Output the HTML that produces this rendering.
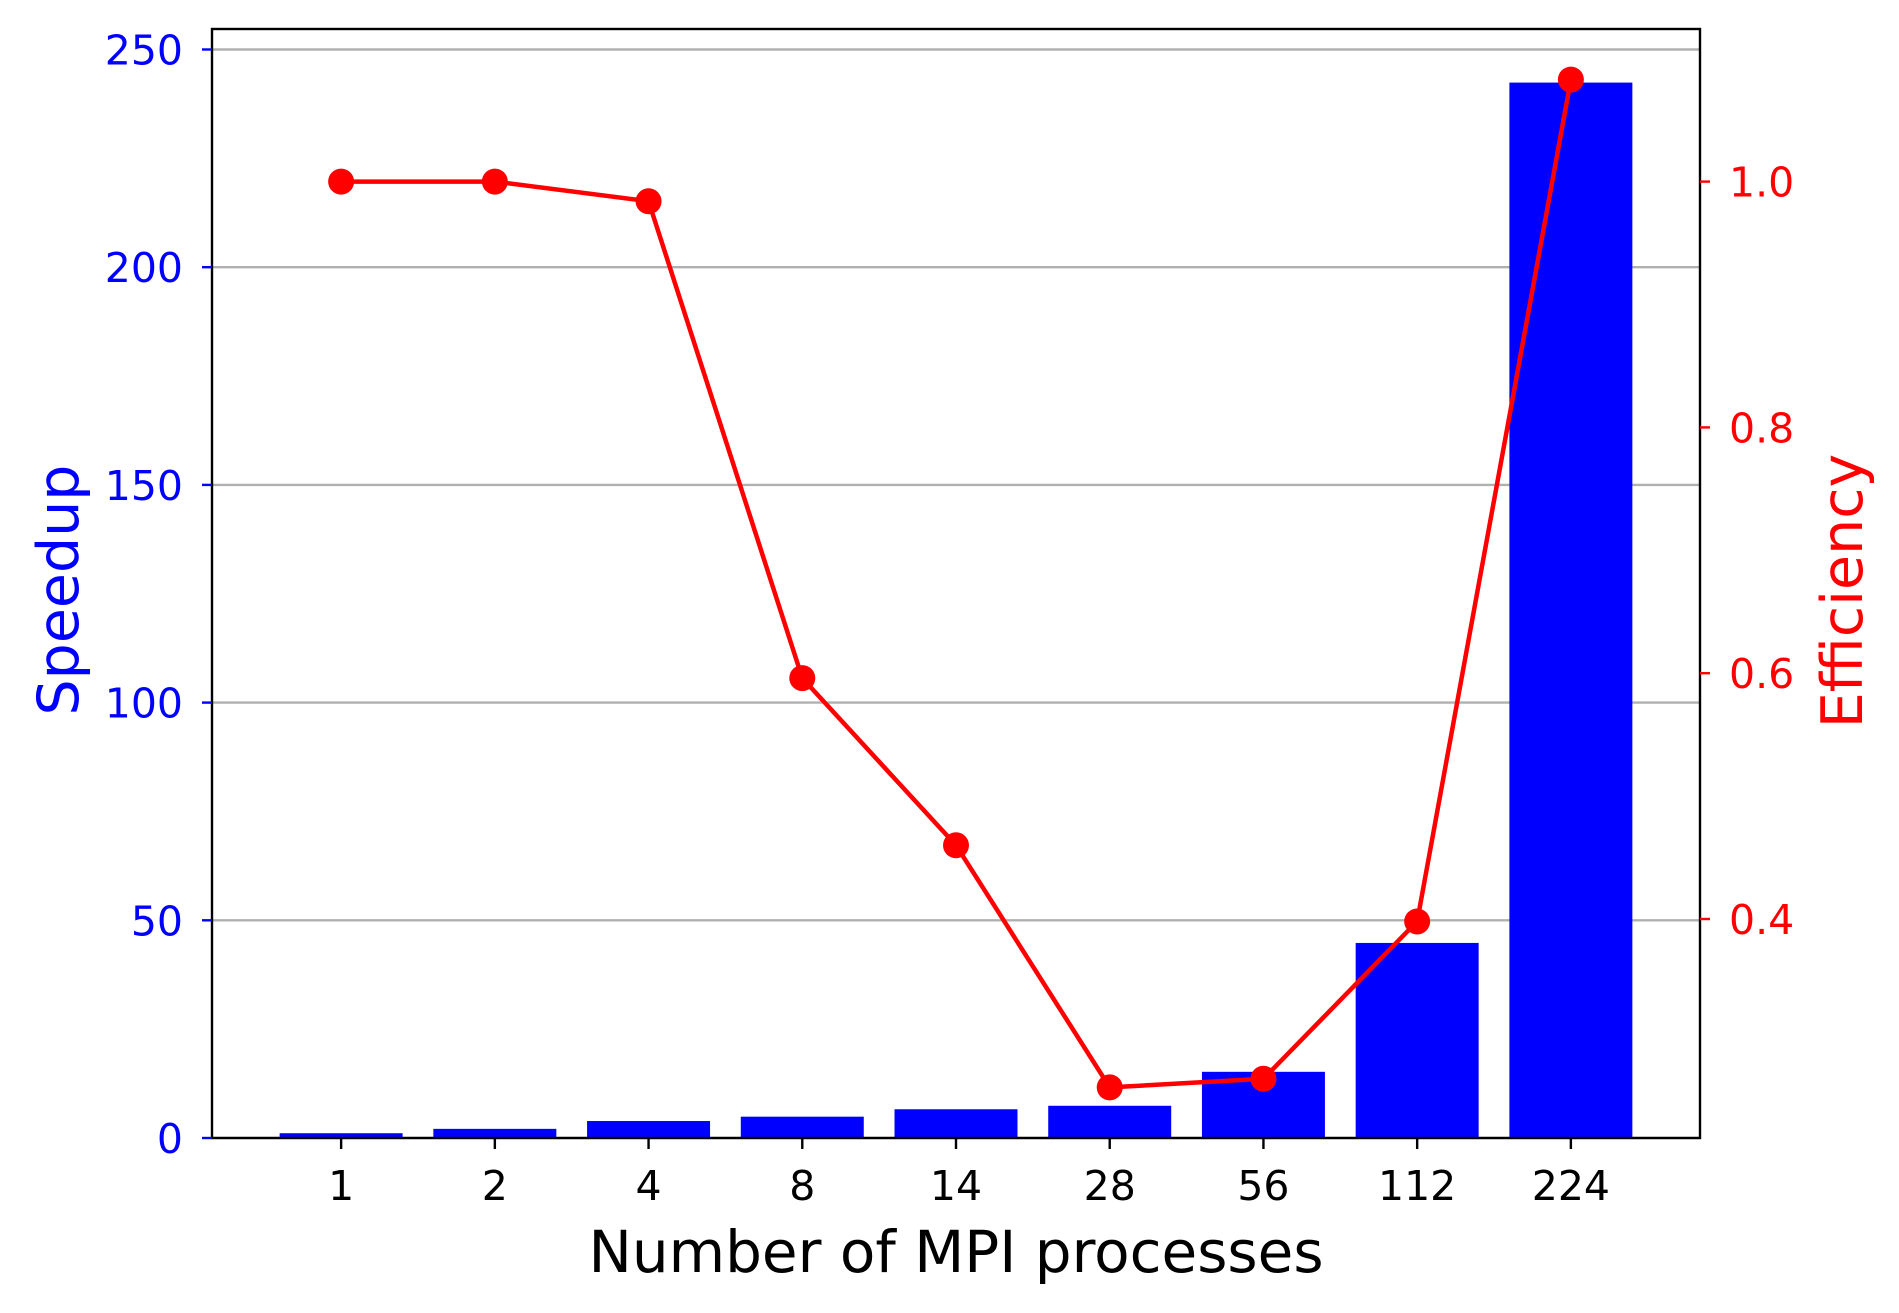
<!DOCTYPE html>
<html><head><meta charset="utf-8"><style>
html,body{margin:0;padding:0;background:#fff;}
svg{display:block;font-family:"DejaVu Sans","Liberation Sans",sans-serif;}
</style></head><body>
<svg id="chart" width="1899" height="1313" viewBox="0 0 1899 1313"></svg>
<script>
const categories = ["1","2","4","8","14","28","56","112","224"];
const speedup = [1.1, 2.1, 3.9, 4.9, 6.6, 7.4, 15.2, 44.8, 242.4];
const efficiency = [1.0, 1.0, 0.984, 0.596, 0.46, 0.263, 0.27, 0.398, 1.083];
const leftTicks = [0, 50, 100, 150, 200, 250];
const rightTicks = [0.4, 0.6, 0.8, 1.0];
const rightTickLabels = ["0.4", "0.6", "0.8", "1.0"];

const NS = "http://www.w3.org/2000/svg";
const svg = document.getElementById("chart");
const L = 212, R = 1700, T = 29, B = 1138;
const xs = i => L + (i + 0.84) / 9.68 * (R - L);
const step = (R - L) / 9.68;
const yL = v => B - v * (1088.5 / 250);
const yR = v => 919 - (v - 0.4) * 1229;

function mk(tag, attrs, parent) {
  const e = document.createElementNS(NS, tag);
  for (const k in attrs) e.setAttribute(k, attrs[k]);
  (parent || svg).appendChild(e);
  return e;
}

leftTicks.forEach(v => {
  const g = mk("line", {x1: L, x2: R, y1: yL(v), y2: yL(v), stroke: "#b0b0b0", "stroke-width": 2.4});
  
  
});

speedup.forEach((v, i) => {
  const r = mk("rect", {x: xs(i) - 0.4 * step, y: yL(v), width: 0.8 * step, height: B - yL(v), fill: "#0000ff"});
  
  
});

const pts = efficiency.map((v, i) => xs(i) + "," + yR(v)).join(" ");
const pl = mk("polyline", {points: pts, fill: "none", stroke: "#ff0000", "stroke-width": 4.5, "stroke-linejoin": "round"});


efficiency.forEach((v, i) => {
  const c = mk("circle", {cx: xs(i), cy: yR(v), r: 13, fill: "#ff0000"});
  
  
});

const fr = mk("rect", {x: L, y: T, width: R - L, height: B - T, fill: "none", stroke: "#000", "stroke-width": 2.4});



leftTicks.forEach(v => {
  mk("line", {x1: L - 10, x2: L, y1: yL(v), y2: yL(v), stroke: "#0000ff", "stroke-width": 2.4});
  const t = mk("text", {x: L - 29, y: yL(v) + 15, "text-anchor": "end", "font-size": 41, fill: "#0000ff"});
  t.textContent = v;
  
  
});
rightTicks.forEach((v, i) => {
  mk("line", {x1: R, x2: R + 10, y1: yR(v), y2: yR(v), stroke: "#ff0000", "stroke-width": 2.4});
  const t = mk("text", {x: R + 29, y: yR(v) + 15, "font-size": 41, fill: "#ff0000"});
  t.textContent = rightTickLabels[i];
  
  
});
categories.forEach((c, i) => {
  mk("line", {x1: xs(i), x2: xs(i), y1: B, y2: B + 11, stroke: "#000", "stroke-width": 2.4});
  const t = mk("text", {x: xs(i), y: B + 62, "text-anchor": "middle", "font-size": 41, fill: "#000"});
  t.textContent = c;
  
  
});

const xt = mk("text", {x: (L + R) / 2, y: 1272, "text-anchor": "middle", "font-size": 58, fill: "#000"});
xt.textContent = "Number of MPI processes";



const yt = mk("text", {x: 0, y: 0, "text-anchor": "middle", "font-size": 57, fill: "#0000ff", transform: "translate(78,590) rotate(-90)"});
yt.textContent = "Speedup";



const yt2 = mk("text", {x: 0, y: 0, "text-anchor": "middle", "font-size": 57, fill: "#ff0000", transform: "translate(1862,591) rotate(-90)"});
yt2.textContent = "Efficiency";


</script>
</body></html>
